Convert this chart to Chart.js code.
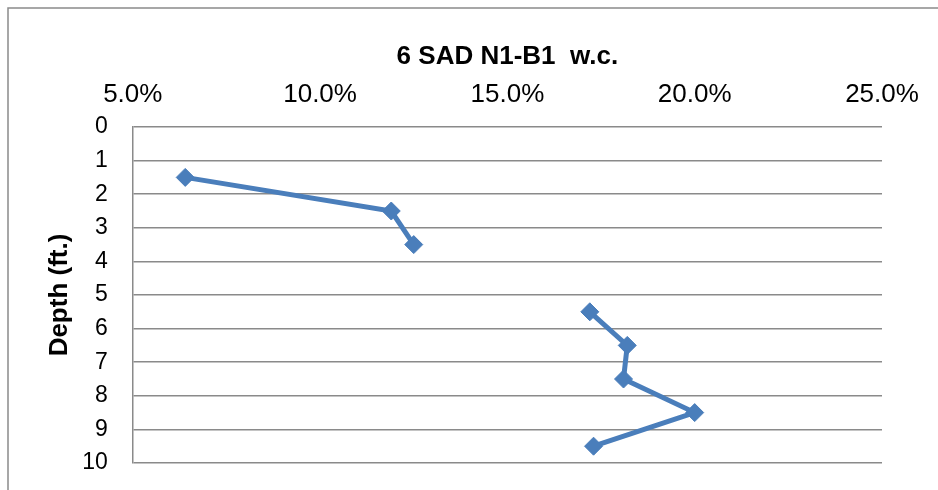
<!DOCTYPE html>
<html>
<head>
<meta charset="utf-8">
<script src="https://cdn.jsdelivr.net/npm/chart.js@4"></script>
<style>
  html, body { margin: 0; padding: 0; background: #fff; }
  #wrap { width: 938px; height: 490px; position: relative; }
</style>
</head>
<body>
<div id="wrap"><canvas id="wc"></canvas></div>
<script>
// water content by depth, boring N1-B1 (no sample at 4.5 ft)
const depths = [1.5, 2.5, 3.5, 4.5, 5.5, 6.5, 7.5, 8.5, 9.5];
const waterContent = [0.064, 0.119, 0.125, null, 0.172, 0.182, 0.181, 0.2, 0.173];
const depthTicks = [0, 1, 2, 3, 4, 5, 6, 7, 8, 9, 10];
const wcTicks = [0.05, 0.10, 0.15, 0.20, 0.25];

const gridGray = '#8a8a8a';
const seriesBlue = '#4a7ebb';
const fontFamily = 'Liberation Sans, Arial, sans-serif';

// thin frame round the chart, cut off at the right and bottom
const frame = {
  id: 'frame',
  beforeDraw(chart) {
    const ctx = chart.ctx;
    ctx.save();
    ctx.fillStyle = '#fff';
    ctx.fillRect(0, 0, chart.width, chart.height);
    ctx.strokeStyle = gridGray;
    ctx.lineWidth = 1.5;
    ctx.strokeRect(8, 8, chart.width + 20, chart.height + 20);
    ctx.restore();
  }
};

const points = depths.map((d, i) => ({ x: waterContent[i], y: d }));

new Chart(document.getElementById('wc'), {
  type: 'scatter',
  data: {
    datasets: [{
      label: 'w.c.',
      data: points,
      showLine: true,
      spanGaps: false,
      borderColor: seriesBlue,
      borderWidth: 5,
      pointStyle: 'rectRot',
      pointRadius: 9,
      pointBorderWidth: 1,
      pointBackgroundColor: seriesBlue,
      pointBorderColor: seriesBlue
    }]
  },
  options: {
    responsive: true,
    maintainAspectRatio: false,
    animation: false,
    layout: { padding: { top: 0, left: 44, right: 56, bottom: 27 } },
    plugins: {
      legend: { display: false },
      tooltip: { enabled: false },
      title: {
        display: true,
        fullSize: false,
        text: '6 SAD N1-B1  w.c.',
        color: '#000',
        font: { family: fontFamily, size: 26, weight: 'bold' },
        padding: { top: 41, bottom: -10.4 }
      }
    },
    scales: {
      x: {
        type: 'linear',
        position: 'top',
        min: 0.05,
        max: 0.25,
        afterBuildTicks(axis) { axis.ticks = wcTicks.map(v => ({ value: v })); },
        ticks: {
          color: '#000',
          padding: 17,
          maxRotation: 0,
          font: { family: fontFamily, size: 26 },
          callback: v => (v * 100).toFixed(1) + '%'
        },
        grid: { display: false, drawTicks: false },
        border: { display: false }
      },
      y: {
        type: 'linear',
        reverse: true,
        min: 0,
        max: 10,
        afterBuildTicks(axis) { axis.ticks = depthTicks.map(v => ({ value: v })); },
        ticks: {
          color: '#000',
          padding: 25,
          // single-line labels: a tight line height keeps the end labels from padding the plot
          font: { family: fontFamily, size: 23, lineHeight: 0.1 }
        },
        grid: { color: gridGray, lineWidth: 1.5, drawTicks: false },
        border: { display: true, color: gridGray, width: 1.5 },
        title: {
          display: true,
          text: 'Depth (ft.)',
          color: '#000',
          font: { family: fontFamily, size: 26, weight: 'bold' },
          padding: { top: 0, bottom: -18 }
        }
      }
    }
  },
  plugins: [frame]
});
</script>
</body>
</html>
